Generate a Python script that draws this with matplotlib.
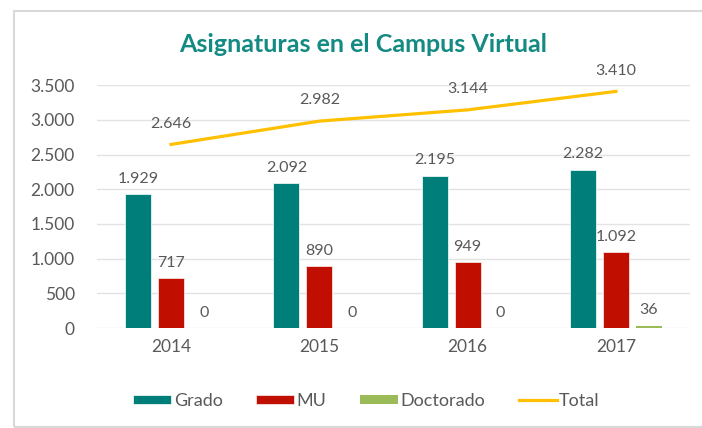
import numpy as np
import matplotlib
matplotlib.use("Agg")
import matplotlib.pyplot as plt
from matplotlib.patches import Rectangle
from matplotlib.ticker import FuncFormatter

years = ["2014", "2015", "2016", "2017"]
grado = [1929, 2092, 2195, 2282]
mu = [717, 890, 949, 1092]
doctorado = [0, 0, 0, 36]
total = [2646, 2982, 3144, 3410]

def fmt(v):
    return f"{int(v):,}".replace(",", ".")

plt.rcParams['font.family'] = ['Lato', 'DejaVu Sans']

fig = plt.figure(figsize=(7.02, 4.28), dpi=100)
ax = fig.add_axes([0.138, 0.2336, 0.845, 0.5674])

# marco del grafico
fig.patches.append(Rectangle((14/702, 1/428), 1.0, 1 - 12/428, transform=fig.transFigure,
                             fill=False, edgecolor="#D9D9D9", lw=1.5))

x = np.arange(len(years))
w = 0.175
d = 0.222
grey = "#595959"

b1 = ax.bar(x - d, grado, w, color="#007F7A", edgecolor="#E8F4F3", lw=0.6, label="Grado", zorder=3)
b2 = ax.bar(x, mu, w, color="#C00F00", edgecolor="#F6E0DE", lw=0.6, label="MU", zorder=3)
b3 = ax.bar(x + d, doctorado, w, color="#9BBB59", label="Doctorado", zorder=3)
ln, = ax.plot(x, total, color="#FFC000", lw=2.3, label="Total", zorder=4)

for bars, vals in [(b1, grado), (b2, mu), (b3, doctorado)]:
    for b, v in zip(bars, vals):
        ax.annotate(fmt(v), (b.get_x() + b.get_width()/2, v), xytext=(0, 6),
                    textcoords="offset points", ha="center", va="bottom",
                    fontsize=11.5, color=grey)
for xi, v in zip(x, total):
    ax.annotate(fmt(v), (xi, v), xytext=(0, 10), textcoords="offset points",
                ha="center", va="bottom", fontsize=11.5, color=grey)

ax.set_xlim(-0.5, 3.5)
ax.set_ylim(0, 3500)
ax.set_yticks(range(0, 3501, 500))
ax.yaxis.set_major_formatter(FuncFormatter(lambda v, p: fmt(v)))
ax.set_xticks(x)
ax.set_xticklabels(years)
ax.tick_params(length=0, labelsize=12.5, colors=grey, pad=8)
ax.tick_params(axis="y", pad=16)
ax.grid(axis="y", color="#E3E3E3", lw=1, zorder=0)
for s in ax.spines.values():
    s.set_visible(False)

fig.text(0.517, 0.895, "Asignaturas en el Campus Virtual", ha="center", va="center",
         fontsize=18, fontweight="bold", color="#138A82")

leg = fig.legend(handles=[b1, b2, b3, ln], loc="center", bbox_to_anchor=(0.522, 0.063),
                 ncol=4, frameon=False, fontsize=13, handlelength=2.1, handleheight=0.45,
                 handletextpad=0.15, columnspacing=1.85)
for t in leg.get_texts():
    t.set_color(grey)

fig.savefig("out.png", dpi=100, facecolor="white")
